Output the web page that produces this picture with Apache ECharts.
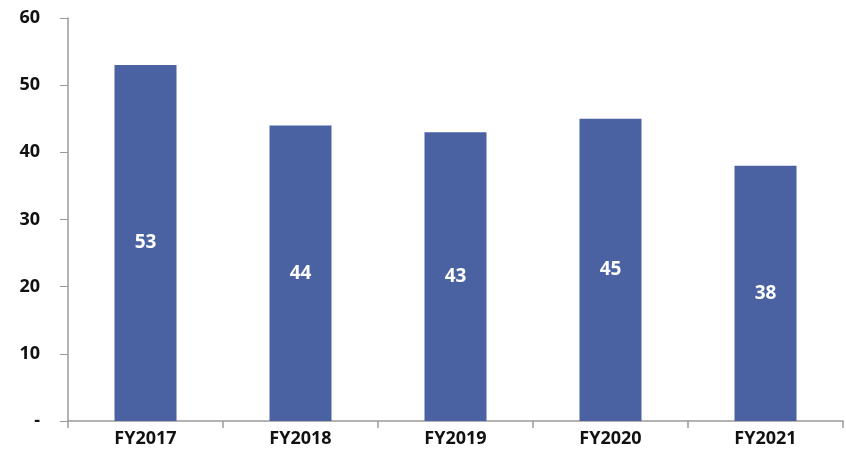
<!DOCTYPE html>
<html><head><meta charset="utf-8">
<script src="https://cdn.jsdelivr.net/npm/echarts@6/dist/echarts.min.js"></script>
<style>html,body{margin:0;padding:0;background:#fff}#c{width:846px;height:464px}</style>
</head><body><div id="c"></div>
<script>
const categories = ['FY2017','FY2018','FY2019','FY2020','FY2021'];
const values = [53, 44, 43, 45, 38];
const yTicks = {min: 0, max: 60, interval: 10};

const chart = echarts.init(document.getElementById('c'));
chart.setOption({
  animation: false,
  grid: {left: 68, right: 3, top: 18, bottom: 43},
  xAxis: {
    type: 'category', data: categories,
    axisLine: {lineStyle: {color: '#9a9a9a', width: 1.5}},
    axisTick: {show: true, length: 7, lineStyle: {color: '#9a9a9a', width: 1.5}},
    axisLabel: {color: '#111', fontWeight: 'bold', fontSize: 18, fontFamily: 'Open Sans', margin: 9}
  },
  yAxis: {
    type: 'value', min: yTicks.min, max: yTicks.max, interval: yTicks.interval,
    axisLine: {show: true, lineStyle: {color: '#9a9a9a', width: 1.5}},
    axisTick: {show: true, length: 8, lineStyle: {color: '#9a9a9a', width: 1}},
    splitLine: {show: false},
    axisLabel: {color: '#111', fontWeight: 'bold', fontSize: 18, fontFamily: 'Open Sans', margin: 28,
      formatter: v => v === 0 ? '-' : String(v)}
  },
  series: [{
    type: 'bar', data: values, barWidth: '40%',
    itemStyle: {color: '#4A62A1'},
    label: {show: true, position: 'inside', color: '#fff', fontWeight: 'bold', fontSize: 19, fontFamily: 'Open Sans'}
  }]
});
</script></body></html>
